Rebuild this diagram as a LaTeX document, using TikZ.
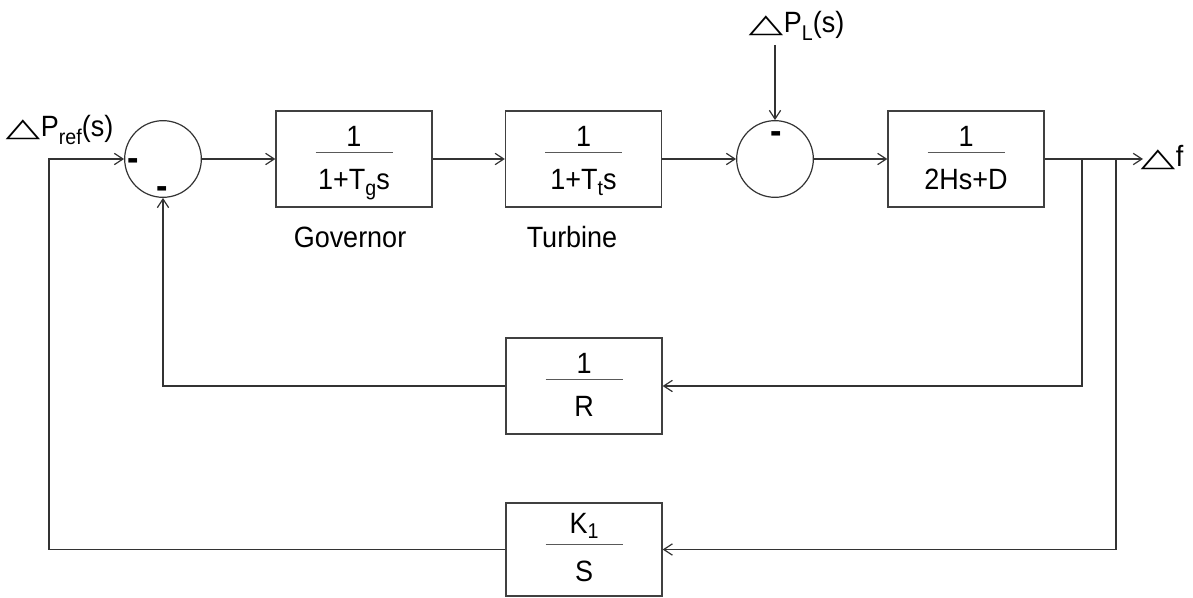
\documentclass[tikz,border=0pt]{standalone}
\usepackage{fontspec}
\setmainfont[FakeStretch=0.92]{Liberation Sans}
\newfontfamily\djv{DejaVu Sans}
\usetikzlibrary{arrows.meta,calc}
\newcommand{\tri}{\hspace{-2pt}\resizebox{26pt}{12.5pt}{\djv △}\hspace{0.5pt}}
\newcommand{\sub}[2][-4.5pt]{\raisebox{#1}{\fontsize{16}{16}\selectfont #2}}
\newcommand{\frc}[3]{%
  \draw[fracline] ($(#1.north)+(-38.5,42)$) -- ($(#1.north)+(38.5,42)$);
  \node[lbl, anchor=south] (#1n) at ($(#1.north)+(0,36)$) {#2};
  \node[lbl] (#1d) at ($(#1.north)+(0,79)$) {#3};
}
\begin{document}
\begin{tikzpicture}[x=0.75pt,y=-0.75pt,
  font=\fontsize{22}{26}\selectfont,
  line/.style={draw=black!80, line width=0.9pt},
  arr/.style={line, -{Straight Barb[length=6.5pt,width=8.5pt]}},
  blockbox/.style={draw=black!75, line width=1pt, minimum width=117pt, minimum height=72pt, inner sep=0},
  sumc/.style={circle, draw=black!80, line width=0.9pt, minimum size=57.5pt, inner sep=0},
  fracline/.style={draw=black!65, line width=1.1pt},
  lbl/.style={inner sep=0, anchor=base},
  minus/.style={font=\fontsize{28}{30}\selectfont\bfseries, inner sep=0}
]
\useasboundingbox (0,0) rectangle (1193,598);

% summing junctions
\node[sumc] (S1) at (163,159) {};
\node[sumc] (S2) at (775,159) {};

% blocks
\node[blockbox] (G) at (354,159) {};
\node[blockbox] (T) at (583.5,159) {};
\node[blockbox] (P) at (966,159) {};
\node[blockbox] (R) at (584,386) {};
\node[blockbox, minimum height=69.75pt] (K) at (584,549.5) {};

\frc{G}{1}{1+T\sub{g}s}
\frc{T}{1}{1+T\sub{t}s}
\frc{P}{1}{2Hs+D}
\frc{R}{1}{R}
\frc{K}{K\sub[-3.5pt]{1}}{S}

% labels
\node[lbl] (gov) at (350,248) {Governor};
\node[lbl] (tur) at (572,248) {Turbine};
\node[lbl, anchor=base west] (pref) at (8,137) {\tri P\sub[-6pt]{ref}(s)};
\node[lbl, anchor=base west] (pl) at (751,33) {\tri P\sub[-6pt]{L}(s)};
\node[lbl, anchor=base west] (df) at (1143,167) {\tri f};

% minus signs
\node[minus] (m1) at (133,165) {-};
\node[minus] (m2) at (162,193) {-};
\node[minus] (m3) at (776,138) {-};

% forward path
\draw[arr] (S1.east) -- (G.west);
\draw[arr] (G.east) -- (T.west);
\draw[arr] (T.east) -- (S2.west);
\draw[arr] (S2.east) -- (P.west);
\coordinate (fout) at (1143,159);
\draw[arr] (P.east) -- (fout);
\coordinate (plc) at (775,45);
\draw[arr] (plc) -- (S2.north);

% feedback paths
\coordinate (b1) at (1082,159);
\coordinate (b2) at (1116,159);
\coordinate (lft) at (49,159);
\draw[arr] (b1) |- (R.east);
\draw[arr] (R.west) -| (S1.south);
\draw[arr] (b2) |- (K.east);
\draw[arr] (K.west) -| (lft) -- (S1.west);
\end{tikzpicture}
\end{document}
